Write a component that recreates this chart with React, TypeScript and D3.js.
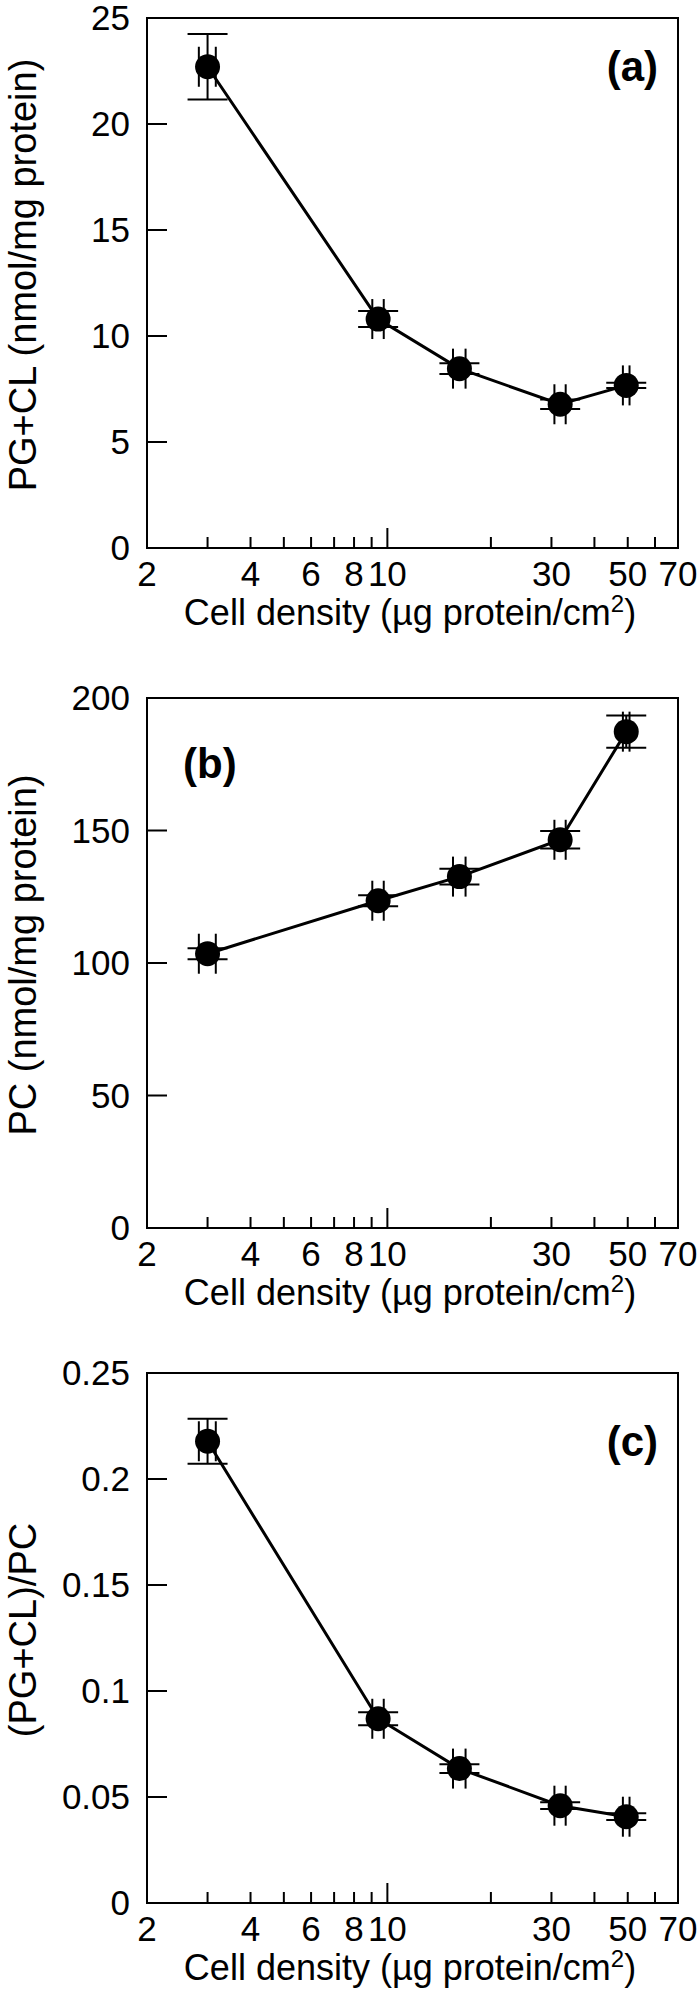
import React from "react";
import * as d3 from "d3";

// ---- data ----
const X_VALUES = [3, 9.4, 16.2, 31.8, 49.5];
const X_ERRORS = [0.17, 0.36, 0.68, 1.2, 1.1];

const PGCL_VALUES = [22.7, 10.8, 8.46, 6.78, 7.67];
const PGCL_ERRORS = [1.55, 0.38, 0.25, 0.22, 0.12];

const PC_VALUES = [103.5, 123.5, 132.6, 146.5, 187.3];
const PC_ERRORS = [2.1, 2.1, 3.0, 3.3, 6.1];

const RATIO_VALUES = [0.2178, 0.0869, 0.0634, 0.0459, 0.0407];
const RATIO_ERRORS = [0.0106, 0.0031, 0.0021, 0.0016, 0.0016];

const X_DOMAIN = [2, 70];
const X_TICK_LABELS = [2, 4, 6, 8, 10, 30, 50, 70];
const X_MINOR_TICKS = [3, 4, 5, 6, 7, 8, 9, 20, 30, 40, 50, 60];
const X_MAJOR_TICKS = [10];

const PGCL_TICKS = [0, 5, 10, 15, 20, 25];
const PC_TICKS = [0, 50, 100, 150, 200];
const RATIO_TICKS = [0, 0.05, 0.1, 0.15, 0.2, 0.25];
const RATIO_TICK_LABELS = ["0", "0.05", "0.1", "0.15", "0.2", "0.25"];

const PANEL_LETTERS = ["(a)", "(b)", "(c)"];
const Y_TITLES = ["PG+CL (nmol/mg protein)", "PC (nmol/mg protein)", "(PG+CL)/PC"];

// ---- layout ----
const W = 700;
const H = 1991;
const LEFT = 147;
const RIGHT = 678;
const BOX_H = 530;
const TOPS = [18, 698, 1373];
const FONT = "'Liberation Sans', Arial, Helvetica, sans-serif";

type PanelDef = {
  values: number[];
  errors: number[];
  ticks: number[];
  tickLabels: string[];
  yMax: number;
  letter: string;
  letterPos: "right" | "left";
  letterValue: number;
  title: string;
};

const PANELS: PanelDef[] = [
  {
    values: PGCL_VALUES,
    errors: PGCL_ERRORS,
    ticks: PGCL_TICKS,
    tickLabels: PGCL_TICKS.map(String),
    yMax: 25,
    letter: PANEL_LETTERS[0],
    letterPos: "right",
    letterValue: 22.7,
    title: Y_TITLES[0],
  },
  {
    values: PC_VALUES,
    errors: PC_ERRORS,
    ticks: PC_TICKS,
    tickLabels: PC_TICKS.map(String),
    yMax: 200,
    letter: PANEL_LETTERS[1],
    letterPos: "left",
    letterValue: 175.4,
    title: Y_TITLES[1],
  },
  {
    values: RATIO_VALUES,
    errors: RATIO_ERRORS,
    ticks: RATIO_TICKS,
    tickLabels: RATIO_TICK_LABELS,
    yMax: 0.25,
    letter: PANEL_LETTERS[2],
    letterPos: "right",
    letterValue: 0.2178,
    title: Y_TITLES[2],
  },
];

const CAP = 20;
const R = 12.5;

function Panel({ def, top }: { def: PanelDef; top: number }) {
  const bottom = top + BOX_H;
  const x = d3.scaleLog().domain(X_DOMAIN).range([LEFT, RIGHT]);
  const y = d3.scaleLinear().domain([0, def.yMax]).range([bottom, top]);
  const line = d3
    .line<number>()
    .x((_, i) => x(X_VALUES[i]))
    .y((v) => y(v));

  return (
    <g>
      <rect
        x={LEFT}
        y={top}
        width={RIGHT - LEFT}
        height={BOX_H}
        fill="none"
        stroke="#000"
        strokeWidth={2}
      />
      {def.ticks.map((t, i) => (
        <g key={"yt" + i}>
          {i > 0 && i < def.ticks.length - 1 && (
            <line x1={LEFT} x2={LEFT + 20} y1={y(t)} y2={y(t)} stroke="#000" strokeWidth={2} />
          )}
          <text
            x={130}
            y={y(t) + 12}
            textAnchor="end"
            fontSize={35}
            fontFamily={FONT}
          >
            {def.tickLabels[i]}
          </text>
        </g>
      ))}
      {X_MINOR_TICKS.map((t) => (
        <line key={"xm" + t} x1={x(t)} x2={x(t)} y1={bottom} y2={bottom - 11} stroke="#000" strokeWidth={2} />
      ))}
      {X_MAJOR_TICKS.map((t) => (
        <line key={"xM" + t} x1={x(t)} x2={x(t)} y1={bottom} y2={bottom - 20} stroke="#000" strokeWidth={2} />
      ))}
      {X_TICK_LABELS.map((t) => (
        <text
          key={"xl" + t}
          x={x(t)}
          y={bottom + 38}
          textAnchor="middle"
          fontSize={35}
          fontFamily={FONT}
        >
          {t}
        </text>
      ))}
      <text x={410} y={bottom + 77} textAnchor="middle" fontSize={36} fontFamily={FONT}>
        Cell density (µg protein/cm
        <tspan fontSize={24} dy={-13}>
          2
        </tspan>
        <tspan dy={13}>)</tspan>
      </text>
      <text
        transform={`translate(23, ${(top + bottom) / 2 - 8}) rotate(-90)`}
        textAnchor="middle"
        dominantBaseline="central"
        fontSize={38}
        fontFamily={FONT}
      >
        {def.title}
      </text>
      <text
        x={def.letterPos === "right" ? 658 : 183}
        y={y(def.letterValue)}
        textAnchor={def.letterPos === "right" ? "end" : "start"}
        dominantBaseline="central"
        fontSize={42}
        fontWeight="bold"
        fontFamily={FONT}
      >
        {def.letter}
      </text>
      <path d={line(def.values) || ""} fill="none" stroke="#000" strokeWidth={3} />
      {def.values.map((v, i) => {
        const cx = x(X_VALUES[i]);
        const cy = y(v);
        const y1 = y(v + def.errors[i]);
        const y2 = y(v - def.errors[i]);
        const x1 = x(X_VALUES[i] - X_ERRORS[i]);
        const x2 = x(X_VALUES[i] + X_ERRORS[i]);
        return (
          <g key={"p" + i} stroke="#000" strokeWidth={2}>
            <circle cx={cx} cy={cy} r={R} fill="#000" stroke="none" />
            <line x1={cx} x2={cx} y1={y1} y2={y2} />
            <line x1={cx - CAP} x2={cx + CAP} y1={y1} y2={y1} />
            <line x1={cx - CAP} x2={cx + CAP} y1={y2} y2={y2} />
            <line x1={x1} x2={x2} y1={cy} y2={cy} />
            <line x1={x1} x2={x1} y1={cy - CAP} y2={cy + CAP} />
            <line x1={x2} x2={x2} y1={cy - CAP} y2={cy + CAP} />
          </g>
        );
      })}
    </g>
  );
}

export default function App() {
  return (
    <div style={{ position: "absolute", left: 0, top: 0 }}>
      <svg width={W} height={H} viewBox={`0 0 ${W} ${H}`} style={{ display: "block", background: "#fff" }}>
        <rect x={0} y={0} width={W} height={H} fill="#fff" />
        {PANELS.map((p, i) => (
          <Panel key={i} def={p} top={TOPS[i]} />
        ))}
      </svg>
    </div>
  );
}
